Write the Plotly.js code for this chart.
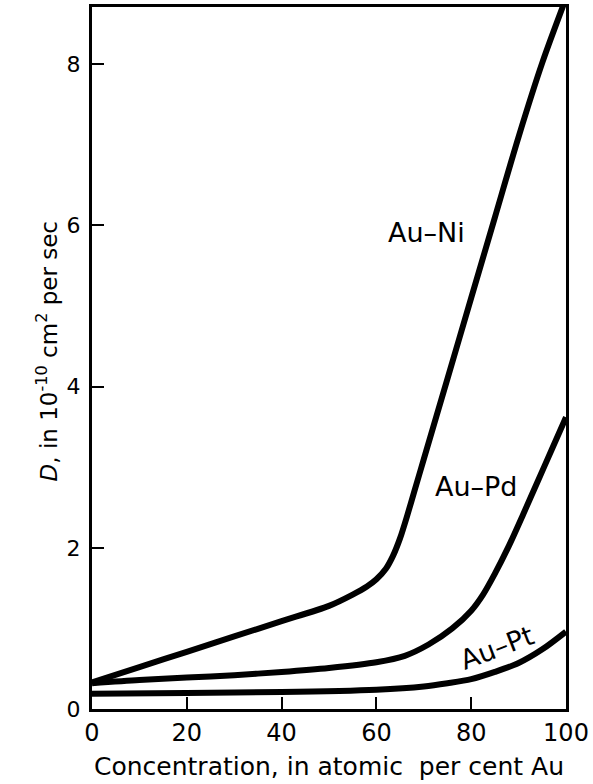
<!DOCTYPE html>
<html>
<head>
<meta charset="utf-8">
<script src="https://cdn.plot.ly/plotly-3.0.1.min.js"></script>
<style>html,body{margin:0;padding:0;background:#fff;}#chart{width:593px;height:784px;}</style>
</head>
<body>
<div id="chart"></div>
<script>
// Data
const niX = [0, 10, 20, 30, 40, 50, 55, 58, 60, 62, 63.5, 65, 66.5, 68, 70, 75, 80, 85, 90, 95, 100];
const niY = [0.33, 0.52, 0.71, 0.9, 1.09, 1.28, 1.42, 1.52, 1.61, 1.74, 1.9, 2.12, 2.4, 2.7, 3.1, 4.1, 5.1, 6.1, 7.1, 8.02, 8.82];
const pdX = [0, 10, 20, 30, 40, 50, 60, 66, 71, 76, 80, 82.5, 85, 88, 91, 94, 97, 100];
const pdY = [0.32, 0.36, 0.39, 0.42, 0.46, 0.51, 0.58, 0.66, 0.8, 1.0, 1.22, 1.42, 1.68, 2.03, 2.42, 2.82, 3.22, 3.62];
const ptX = [0, 20, 40, 60, 70, 75, 80, 85, 90, 95, 100];
const ptY = [0.19, 0.2, 0.21, 0.24, 0.28, 0.32, 0.37, 0.46, 0.57, 0.74, 0.96];
const xTicks = [0, 20, 40, 60, 80, 100];
const yTicks = [0, 2, 4, 6, 8];
const seriesNames = ['Au–Ni', 'Au–Pd', 'Au–Pt'];

const FONT = 'DejaVu Sans, Liberation Sans, sans-serif';
const lineStyle = {color: '#000', width: 6, shape: 'spline', smoothing: 0.8};

const traces = [
  {x: niX, y: niY, name: seriesNames[0], mode: 'lines', line: lineStyle, hoverinfo: 'x+y'},
  {x: pdX, y: pdY, name: seriesNames[1], mode: 'lines', line: lineStyle, hoverinfo: 'x+y'},
  {x: ptX, y: ptY, name: seriesNames[2], mode: 'lines', line: lineStyle, hoverinfo: 'x+y'}
];

const layout = {
  width: 593, height: 784,
  margin: {l: 92, r: 27, t: 7, b: 75},
  paper_bgcolor: '#fff', plot_bgcolor: '#fff',
  showlegend: false,
  font: {family: FONT, color: '#000', size: 22},
  xaxis: {
    range: [0, 100], tickvals: xTicks, ticktext: xTicks.map(String),
    ticks: 'inside', ticklen: 12, tickwidth: 2, tickcolor: '#000',
    showline: true, mirror: true, linewidth: 3, linecolor: '#000',
    showgrid: false, zeroline: false,
    tickfont: {family: FONT, size: 24, color: '#000'},
    title: {text: 'Concentration, in atomic  per cent Au', font: {family: FONT, size: 25, color: '#000'}, standoff: 12}
  },
  yaxis: {
    range: [0, 8.71], tickvals: yTicks, ticktext: yTicks.map(String),
    ticks: 'inside', ticklen: 12, tickwidth: 2, tickcolor: '#000',
    showline: true, mirror: true, linewidth: 3, linecolor: '#000',
    showgrid: false, zeroline: false,
    ticklabelstandoff: 4,
    tickfont: {family: FONT, size: 22, color: '#000'}
  },
  annotations: [
    {text: '<i>D</i>, in 10<sup>-10</sup> cm<sup>2</sup> per sec', xref: 'paper', yref: 'paper',
     x: -0.094, y: 0.51, xanchor: 'center', yanchor: 'middle', textangle: -90, showarrow: false,
     font: {family: FONT, size: 23, color: '#000'}},
    {text: seriesNames[0], x: 70.5, y: 5.91, xref: 'x', yref: 'y', showarrow: false,
     font: {family: FONT, size: 27, color: '#000'}},
    {text: seriesNames[1], x: 81.2, y: 2.76, xref: 'x', yref: 'y', showarrow: false,
     font: {family: FONT, size: 27, color: '#000'}},
    {text: seriesNames[2], x: 85.5, y: 0.76, xref: 'x', yref: 'y', showarrow: false, textangle: -21,
     font: {family: FONT, size: 27, color: '#000'}}
  ]
};

Plotly.newPlot('chart', traces, layout, {displayModeBar: false, staticPlot: true});
</script>
</body>
</html>
